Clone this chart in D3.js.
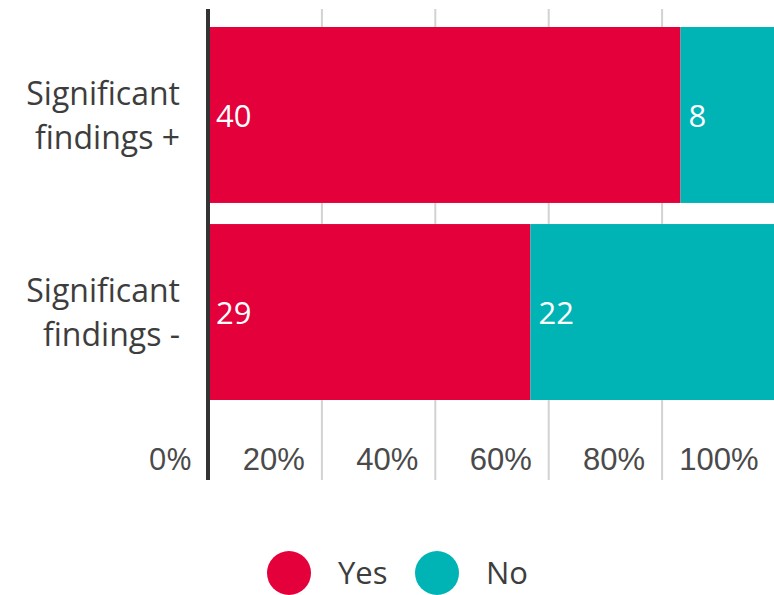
<!DOCTYPE html>
<html>
<head>
<meta charset="utf-8">
<script src="https://cdn.jsdelivr.net/npm/d3@7"></script>
<style>
  body { margin: 0; background: #fff; }
  svg { font-family: "Open Sans", sans-serif; }
  .x.axis .domain { display: none; }
  .x.axis line { stroke: #d2d2d2; stroke-width: 2; }
  .x.axis text { fill: #4a4a4a; font-size: 31px; }
</style>
</head>
<body>
<div id="chart"></div>
<script>
const categories = ["Significant findings +", "Significant findings -"]
const categoryLines = [["Significant", "findings +"], ["Significant", "findings -"]]
const series = ["Yes", "No"]
const yesValues = [40, 29]
const noValues = [8, 22]
const tickValues = [0, 0.2, 0.4, 0.6, 0.8, 1]

const WIDTH = 774
const HEIGHT = 595

const svg = d3.select("#chart")
  .append("svg")
  .attr("width", WIDTH)
  .attr("height", HEIGHT)

const rows = categories.map((c, i) => ({ category: c, Yes: yesValues[i], No: noValues[i] }))
const stacked = d3.stack().keys(series).offset(d3.stackOffsetExpand)(rows)

const x = d3.scaleLinear().domain([0, 1]).range([208, 775])
const y = d3.scaleBand().domain(categories).range([27, 400]).paddingInner(0.107).paddingOuter(0)
const color = d3.scaleOrdinal().domain(series).range(["#e4003a", "#00b4b5"])

// gridlines + tick labels
const xAxisCall = d3.axisBottom(x)
  .tickValues(tickValues.slice(1))
  .tickSize(-471)
  .tickFormat(d3.format(".0%"))

const xAxis = svg.append("g")
  .attr("class", "x axis")
  .attr("transform", "translate(0, 480)")
  .call(xAxisCall)

xAxis.selectAll("text")
  .attr("text-anchor", "end")
  .attr("dx", "-17px")
  .attr("y", -10)
  .attr("dy", 0)

// zero label
svg.append("text")
  .attr("x", x(0) - 16)
  .attr("y", 470)
  .attr("text-anchor", "end")
  .attr("fill", "#4a4a4a")
  .attr("font-size", "31px")
  .text(d3.format(".0%")(tickValues[0]))

// bars
const layers = svg.append("g").selectAll("g")
  .data(stacked)
  .join("g")
  .attr("fill", d => color(d.key))

layers.selectAll("rect")
  .data(d => d)
  .join("rect")
  .attr("x", d => x(d[0]))
  .attr("y", d => y(d.data.category))
  .attr("width", d => x(d[1]) - x(d[0]))
  .attr("height", y.bandwidth())

// value labels
layers.selectAll("text")
  .data(d => d.map(v => ({ v, key: d.key })))
  .join("text")
  .attr("x", d => x(d.v[0]) + 8)
  .attr("y", d => y(d.v.data.category) + y.bandwidth() / 2 + 12)
  .attr("fill", "#fff")
  .attr("font-size", "31px")
  .text(d => d.v.data[d.key])

// baseline
svg.append("line")
  .attr("x1", x(0)).attr("x2", x(0))
  .attr("y1", 9).attr("y2", 480)
  .attr("stroke", "#333")
  .attr("stroke-width", 4)

// category labels
const catLabels = svg.append("g").selectAll("text")
  .data(categories)
  .join("text")
  .attr("text-anchor", "end")
  .attr("fill", "#3d3d3d")
  .attr("font-size", "32px")
  .attr("y", d => y(d) + y.bandwidth() / 2)

catLabels.selectAll("tspan")
  .data((d, i) => categoryLines[i])
  .join("tspan")
  .attr("x", 180)
  .attr("dy", (d, i) => i === 0 ? -10 : 44)
  .text(d => d)

// legend
const legend = svg.append("g").selectAll("g")
  .data(series)
  .join("g")
  .attr("transform", (d, i) => `translate(${289 + i * 148}, 573)`)

legend.append("circle")
  .attr("r", 22)
  .attr("fill", d => color(d))

legend.append("text")
  .attr("x", 49)
  .attr("y", 11)
  .attr("fill", "#3d3d3d")
  .attr("font-size", "31px")
  .text(d => d)
</script>
</body>
</html>
